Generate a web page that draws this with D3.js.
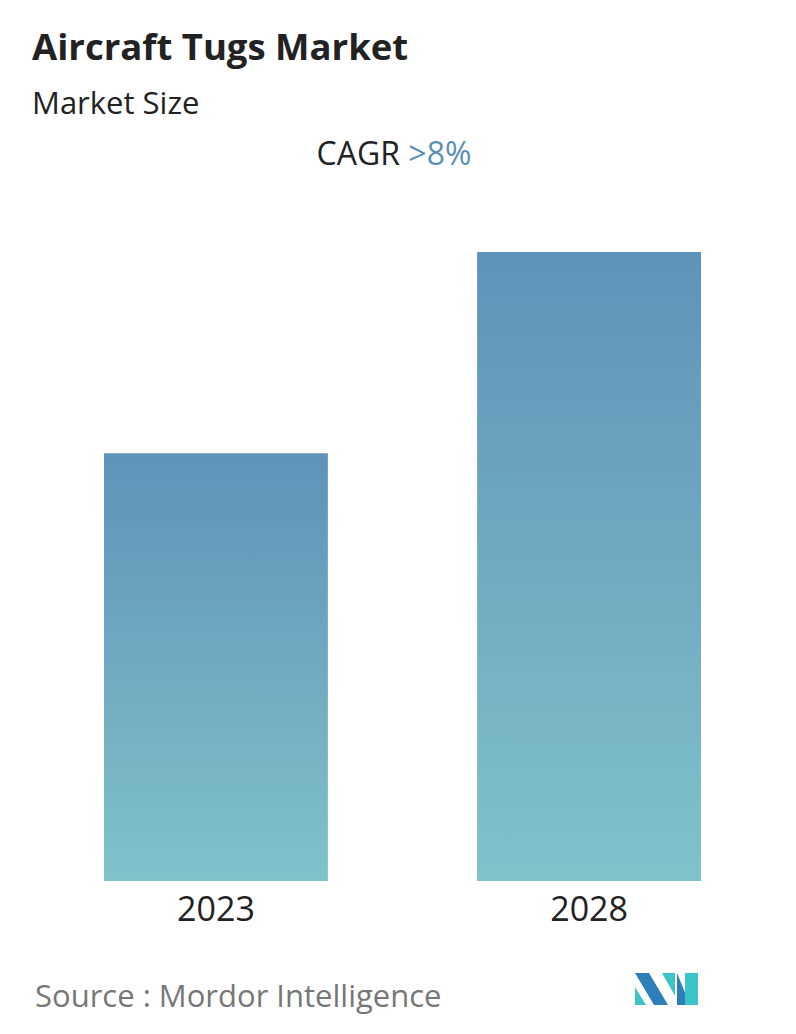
<!DOCTYPE html><html><head><meta charset="utf-8">
<script src="https://cdn.jsdelivr.net/npm/d3@7"></script>
<style>body{margin:0;background:#fff}text{font-family:"Open Sans",sans-serif}</style></head><body>
<script>
const categories=["2023","2028"];
const values=[68,100];
const W=796,H=1034;
const svg=d3.select("body").append("svg").attr("width",W).attr("height",H);
const defs=svg.append("defs");
const g=defs.append("linearGradient").attr("id","gr").attr("x1",0).attr("y1",0).attr("x2",0).attr("y2",1);
g.append("stop").attr("offset",0).attr("stop-color","#5f92b8");
g.append("stop").attr("offset",1).attr("stop-color","#80c2ca");
svg.append("text").attr("x",32).attr("y",60).attr("font-size",36.5).attr("font-weight",700).attr("fill","#222").text("Aircraft Tugs Market");
svg.append("text").attr("x",32).attr("y",114).attr("font-size",31).attr("fill","#222").text("Market Size");
const c=svg.append("text").attr("x",394).attr("y",165).attr("text-anchor","middle").attr("font-size",32);
c.append("tspan").attr("fill","#222").text("CAGR ");
c.append("tspan").attr("fill","#5b8fb5").text(">8%");
const x=d3.scaleBand().domain(categories).range([104,701]).paddingInner(0.4).paddingOuter(0);
const y=d3.scaleLinear().domain([0,100]).range([881,252]);
svg.selectAll("rect.b").data(values).join("rect").attr("class","b")
 .attr("x",(d,i)=>x(categories[i])).attr("width",x.bandwidth())
 .attr("y",d=>y(d)).attr("height",d=>y(0)-y(d)).attr("fill","url(#gr)");
svg.append("g").attr("transform","translate(0,881)").call(d3.axisBottom(x).tickSize(0).tickPadding(16))
 .call(a=>a.select(".domain").remove())
 .selectAll("text").attr("font-size",34).attr("fill","#222").attr("font-family","'Open Sans',sans-serif");
svg.append("text").attr("x",35).attr("y",1007).attr("font-size",31).attr("fill","#777").text("Source :  Mordor Intelligence");
const L=svg.append("g");
L.append("polygon").attr("points","635,973 649,973 668,1005 654,1005").attr("fill","#2e7fb8");
L.append("polygon").attr("points","635,987 635,1005 646,1005").attr("fill","#3cc4c8");
L.append("polygon").attr("points","662,973 675,973 675,996").attr("fill","#3cc4c8");
L.append("polygon").attr("points","677,973 690,1005 677,1005").attr("fill","#2e7fb8");
L.append("rect").attr("x",685).attr("y",973).attr("width",13).attr("height",32).attr("fill","#3cc4c8");
</script></body></html>
